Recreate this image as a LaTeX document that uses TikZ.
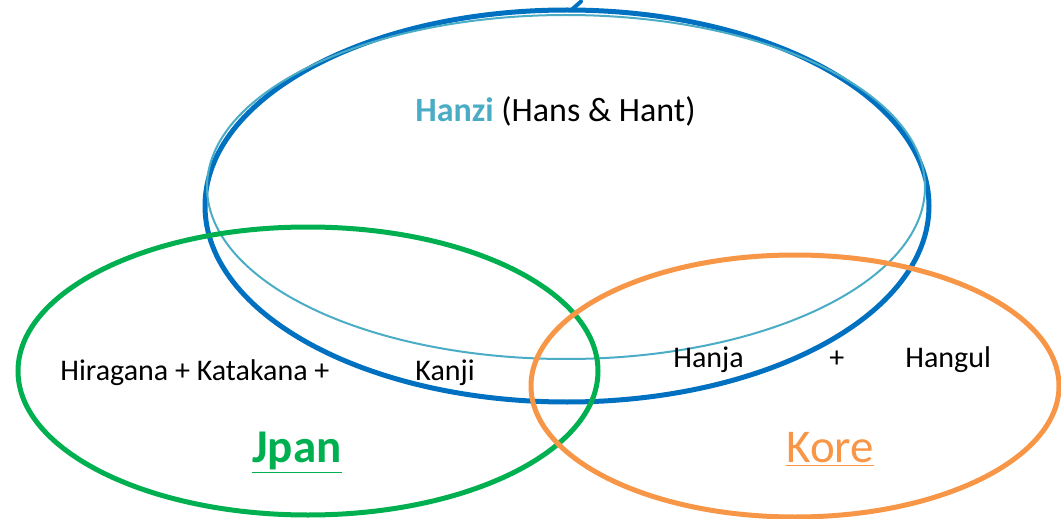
\documentclass[tikz,border=0pt]{standalone}
\usepackage{fontspec}
\setmainfont{Carlito}
\usepackage{tikz}
\usetikzlibrary{shapes.geometric,positioning}
\definecolor{hanzidark}{HTML}{0070C0}
\definecolor{hanzilight}{HTML}{4BACC6}
\definecolor{jpangreen}{HTML}{00B050}
\definecolor{koreorange}{HTML}{F79646}
\tikzset{
    %Define style for the script sets
    setring/.style={
           ellipse,
           inner sep=0pt,
           line width=2.5pt},
    %Define style for the labels
    word/.style={
           inner sep=0pt,
           anchor=base west,
           font=\fontsize{15}{18}\selectfont},
    setname/.style={
           inner sep=0pt,
           anchor=base west,
           font=\fontsize{23.5}{26}\selectfont}
}

\begin{document}
\begin{tikzpicture}[x=0.5pt,y=-0.5pt]
\useasboundingbox (0,0) rectangle (1061,519);
% the three sets
\node[setring, draw=hanzidark, minimum width=362pt, minimum height=196pt](hz) at (567,206){};
\node[setring, draw=hanzilight, line width=1pt, minimum width=359pt, minimum height=172pt](hzl) at (566,187){};
\node[setring, draw=jpangreen, minimum width=290pt, minimum height=144pt](jp) at (308,371){};
\node[setring, draw=koreorange, minimum width=264pt, minimum height=131pt](ko) at (795,386){};
\draw[hanzidark, line width=2pt, line cap=round] (hz.north) ++(5,2) -- ++(9,-8);
% labels
\node[word, font=\fontsize{17}{20}\selectfont](hanzi) at (415,122){\textcolor{hanzilight}{\bfseries Hanzi} (Hans \& Hant)};
\node[word](kana) at (60,380){Hiragana + Katakana +};
\node[word](kanji) at (415,380){Kanji};
\node[word](hanja) at (673,367){Hanja};
\node[word](plus) at (829,367){+};
\node[word](hangul) at (905,367){Hangul};
\node[setname, text=jpangreen, font=\fontsize{23.5}{26}\selectfont\bfseries](jpan) at (252,462){\underline{Jpan}};
\node[setname, text=koreorange](kore) at (786,462){\underline{Kore}};
\end{tikzpicture}
\end{document}
